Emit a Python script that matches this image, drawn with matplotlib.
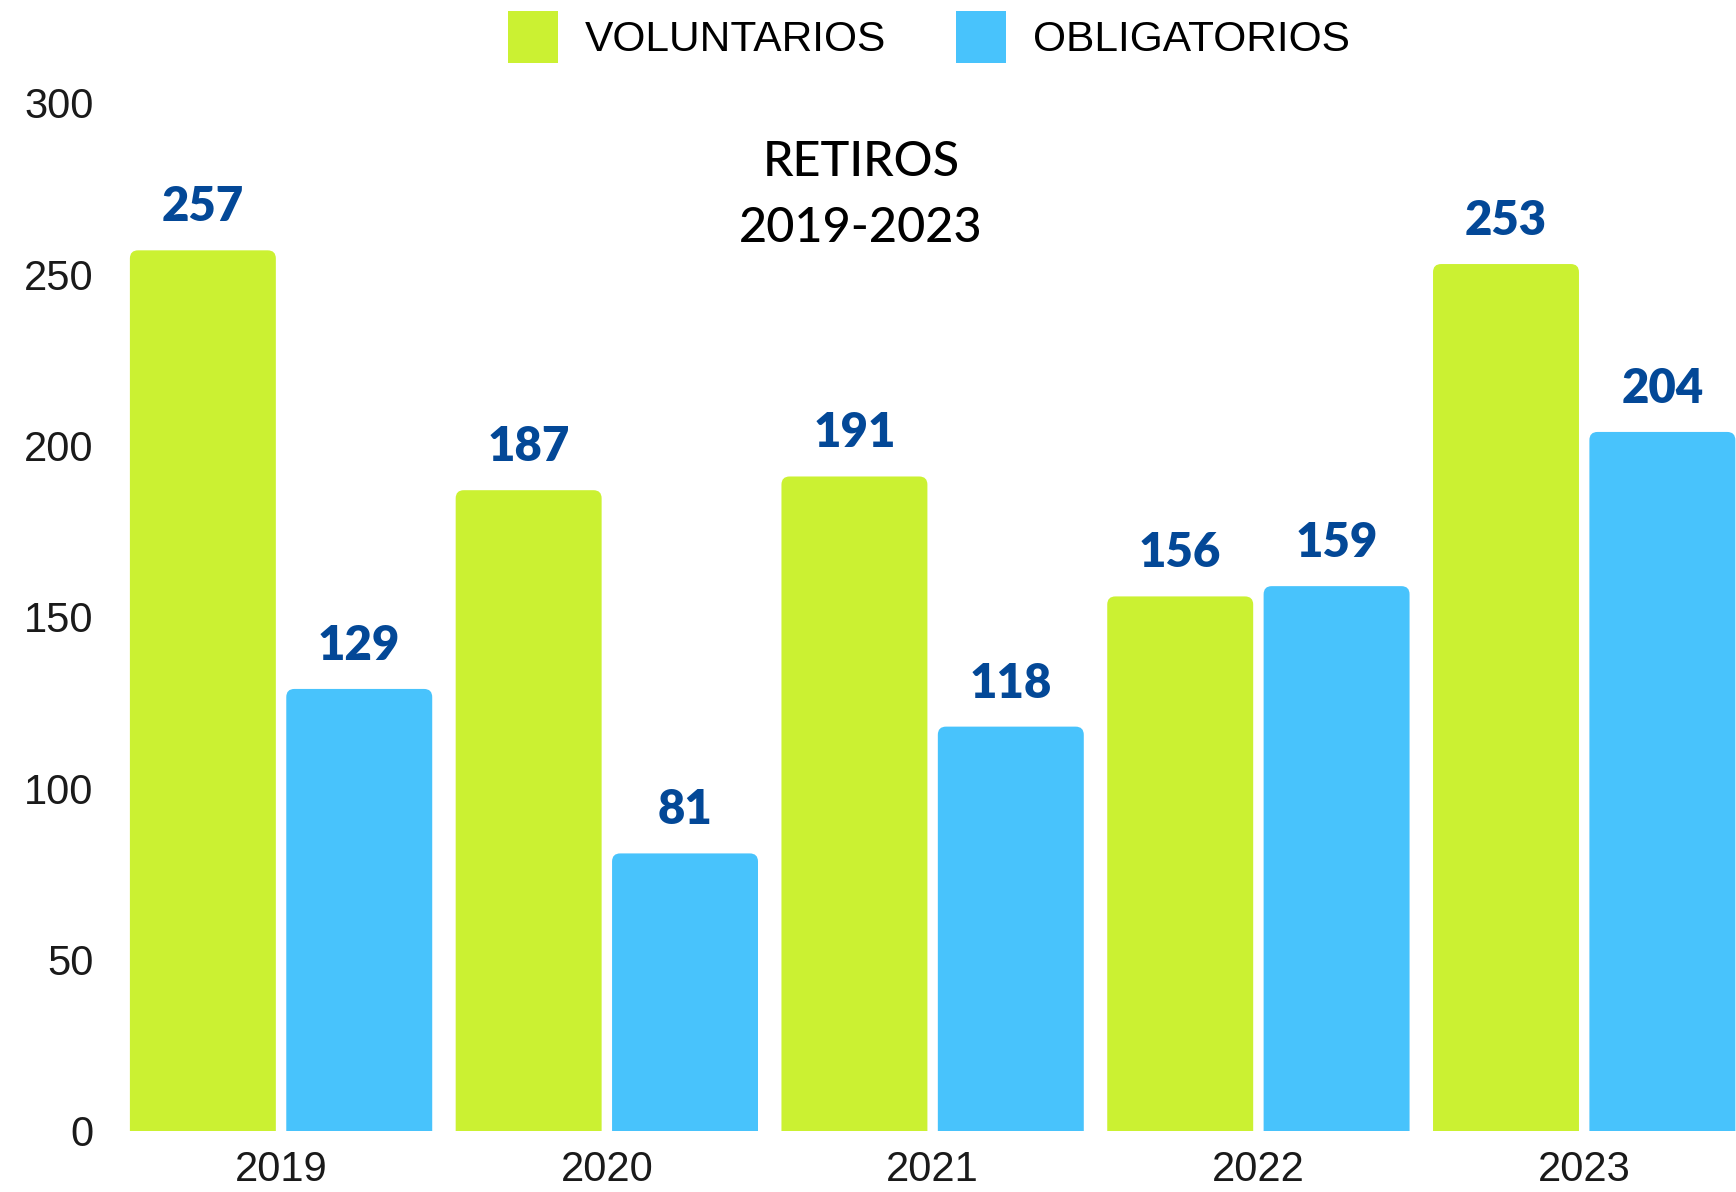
import numpy as np
import matplotlib
matplotlib.use("Agg")
import matplotlib.pyplot as plt
from matplotlib.patches import FancyBboxPatch, Patch

# data
years = ["2019", "2020", "2021", "2022", "2023"]
voluntarios = [257, 187, 191, 156, 253]
obligatorios = [129, 81, 118, 159, 204]

green = "#CBF132"
blue = "#48C3FC"
label_blue = "#034897"

fig = plt.figure(figsize=(17.36, 11.92), dpi=100)
ax = fig.add_axes([0.063, 0.0512, 0.937, 0.8624])

x = np.arange(len(years))
width = 0.448
offset = 0.24
xlim = (-0.527, 4.466)

bars_v = ax.bar(x - offset, voluntarios, width, color=green)
bars_o = ax.bar(x + offset, obligatorios, width, color=blue)

ax.set_xlim(*xlim)
ax.set_ylim(0, 300)

# swap the plain rectangles for ones with rounded top corners
ax_w_px = 0.937 * 1736
ax_h_px = 0.8624 * 1192
aspect = (ax_w_px / (xlim[1] - xlim[0])) / (ax_h_px / 300)
r = 0.025
for bars in (bars_v, bars_o):
    for b in bars:
        bx, bw, bh = b.get_x(), b.get_width(), b.get_height()
        b.set_visible(False)
        patch = FancyBboxPatch((bx, -10), bw, bh + 10,
                               boxstyle="round,pad=0,rounding_size=%f" % r,
                               mutation_aspect=aspect,
                               facecolor=b.get_facecolor(), edgecolor="none")
        ax.add_patch(patch)

# value labels
for bars, vals in ((bars_v, voluntarios), (bars_o, obligatorios)):
    for b, v in zip(bars, vals):
        ax.annotate(str(v), (b.get_x() + b.get_width() / 2, v),
                    xytext=(0, 31), textcoords="offset points",
                    ha="center", va="center", fontsize=34,
                    fontweight="heavy", family=["Lato", "DejaVu Sans"],
                    color=label_blue, annotation_clip=False)

ax.set_xticks(x)
ax.set_xticklabels(years)
ax.set_yticks(range(0, 301, 50))
ax.tick_params(axis="both", length=0, labelsize=30, colors="#1a1a1a")
ax.tick_params(axis="y", pad=11.5)
ax.tick_params(axis="x", pad=14)
for lab in ax.get_xticklabels() + ax.get_yticklabels():
    lab.set_family(["Liberation Sans", "DejaVu Sans"])
for s in ax.spines.values():
    s.set_visible(False)

fig.text(861 / 1736, 1 - 162 / 1192, "RETIROS", ha="center", va="center",
         fontsize=35, fontweight="medium", family=["Lato", "DejaVu Sans"],
         color="black")
fig.text(861 / 1736, 1 - 228 / 1192, "2019-2023", ha="center", va="center",
         fontsize=35, fontweight="medium", family=["Lato", "DejaVu Sans"],
         color="black")

handles = [Patch(facecolor=green, edgecolor="none"),
           Patch(facecolor=blue, edgecolor="none")]
fig.legend(handles=handles, labels=["VOLUNTARIOS", "OBLIGATORIOS"],
           loc="upper center", bbox_to_anchor=(929 / 1736, 1 + 10 / 1192),
           ncol=2, frameon=False, borderpad=0, handlelength=1.18,
           handleheight=1.5, handletextpad=0.62, columnspacing=1.65,
           prop={"family": ["Liberation Sans", "DejaVu Sans"], "size": 30.6})

fig.savefig("out.png", dpi=100)
